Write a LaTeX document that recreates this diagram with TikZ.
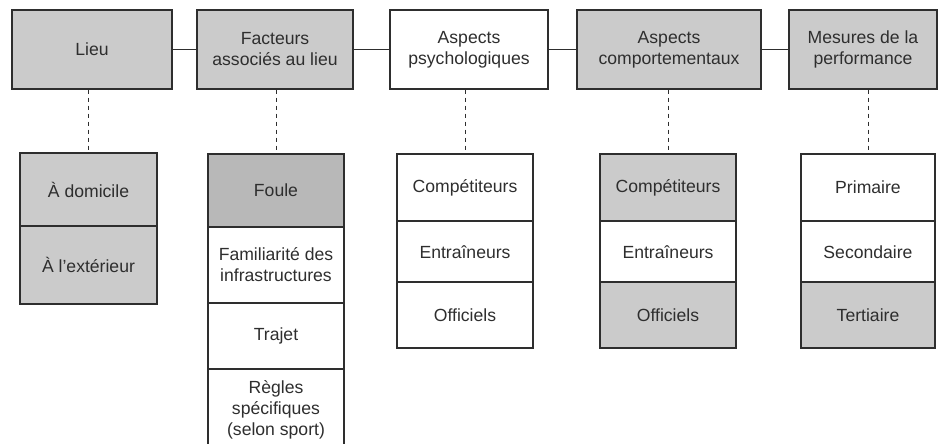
\documentclass[tikz,border=0pt]{standalone}
\usepackage{fontspec}
\setmainfont{Liberation Sans}
\usetikzlibrary{positioning}
\definecolor{ink}{HTML}{2E2E2E}
\definecolor{shade}{HTML}{CBCBCB}
\definecolor{shadedark}{HTML}{B8B8B8}
\tikzset{
  box/.style={draw=ink,line width=0.6pt,align=center,inner sep=0pt,text=ink,
    font=\fontsize{8.8}{10.5}\selectfont},
  head/.style={box,minimum height=39.5pt},
  cell/.style={box,minimum width=68pt},
  joint/.style={draw=ink,line width=0.6pt},
  link/.style={draw=ink,line width=0.5pt,dash pattern=on 2pt off 2pt}
}
\begin{document}
\begin{tikzpicture}[x=0.5pt,y=-0.5pt]
\useasboundingbox (0,0) rectangle (938,444);
\node[head,fill=shade,minimum width=80pt] (lieu) at (92,49.5) {Lieu};
\node[head,fill=shade,minimum width=78pt] (facteurs) at (275,49.5) {Facteurs\\associés au lieu};
\node[head,fill=white,minimum width=79pt] (psycho) at (469,49.5) {Aspects\\psychologiques};
\node[head,fill=shade,minimum width=92pt] (comport) at (669,49.5) {Aspects\\comportementaux};
\node[head,fill=shade,minimum width=74pt] (mesures) at (863,49.5) {Mesures de la\\performance};

\node[cell,fill=shade,minimum width=68.5pt,minimum height=36.5pt] (domicile) at (88.5,189.5) {À domicile};
\node[cell,fill=shade,minimum width=68.5pt,minimum height=39pt] (exterieur) at (88.5,265) {À l'extérieur};

\node[cell,fill=shadedark,minimum height=36.5pt] (foule) at (276,190.5) {Foule};
\node[cell,minimum height=38pt] (familiarite) at (276,265) {Familiarité des\\infrastructures};
\node[cell,minimum height=33pt] (trajet) at (276,336) {Trajet};
\node[cell,minimum height=41pt] (regles) at (276,410) {Règles\\spécifiques\\(selon sport)};

\node[cell,minimum height=33.5pt] (pcompet) at (465,187.5) {Compétiteurs};
\node[cell,minimum height=30.5pt] (pentrain) at (465,252) {Entraîneurs};
\node[cell,minimum height=33pt] (poffic) at (465,315) {Officiels};

\node[cell,fill=shade,minimum height=33.5pt] (ccompet) at (668,187.5) {Compétiteurs};
\node[cell,minimum height=30.5pt] (centrain) at (668,252) {Entraîneurs};
\node[cell,fill=shade,minimum height=33pt] (coffic) at (668,315) {Officiels};

\node[cell,minimum width=67pt,minimum height=33.5pt] (primaire) at (868,187.5) {Primaire};
\node[cell,minimum width=67pt,minimum height=30.5pt] (secondaire) at (868,252) {Secondaire};
\node[cell,fill=shade,minimum width=67pt,minimum height=33pt] (tertiaire) at (868,315) {Tertiaire};

\draw[joint] (lieu) -- (facteurs);
\draw[joint] (facteurs) -- (psycho);
\draw[joint] (psycho) -- (comport);
\draw[joint] (comport) -- (mesures);

\draw[link] (lieu.south -| domicile.north) -- (domicile.north);
\draw[link] (facteurs.south -| foule.north) -- (foule.north);
\draw[link] (psycho.south -| pcompet.north) -- (pcompet.north);
\draw[link] (comport.south -| ccompet.north) -- (ccompet.north);
\draw[link] (mesures.south -| primaire.north) -- (primaire.north);
\end{tikzpicture}
\end{document}
